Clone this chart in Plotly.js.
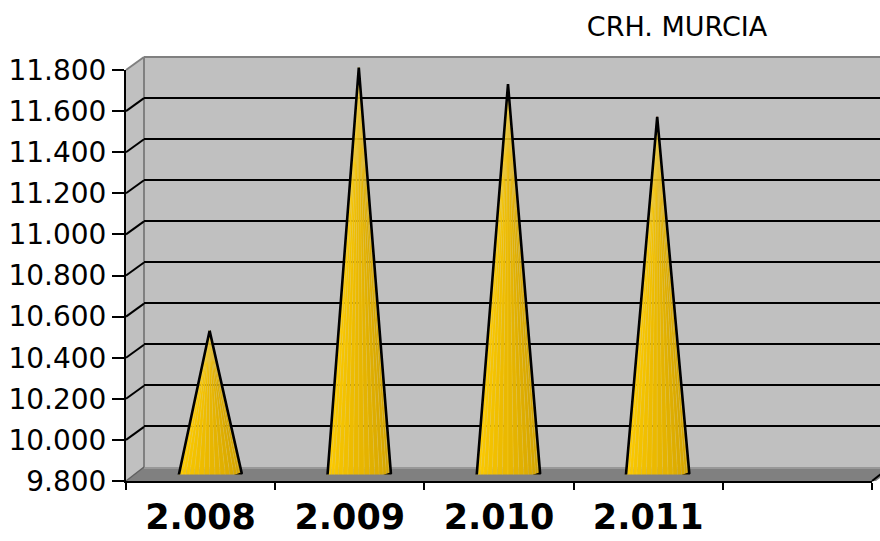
<!DOCTYPE html>
<html>
<head>
<meta charset="utf-8">
<script src="https://cdn.plot.ly/plotly-3.0.1.min.js"></script>
<style>html,body{margin:0;padding:0;background:#fff;}#chart{width:880px;height:541px;}</style>
</head>
<body>
<div id="chart"></div>
<script>
// ---- data ----
const categories = ['2.008', '2.009', '2.010', '2.011'];
const values = [10500, 11780, 11700, 11540];
const yTicks = [9800, 10000, 10200, 10400, 10600, 10800, 11000, 11200, 11400, 11600, 11800];
const chartTitle = 'CRH. MURCIA';

// ---- layout helpers (pixel -> paper) ----
const W = 880, H = 541;
const fx = p => p / W;
const fy = p => (H - p) / H;

const catIdx = categories.map((_, i) => i);
const nSlots = 5;
const slotPx = (872 - 126) / nSlots;

// ---- cone geometry built from the values ----
const R = 0.215;      // base half-width in category units
const B = 20;         // base ellipse semi-minor in value units
const TILT = 12;      // perspective tilt
const C0 = 9795;      // base centre level
const N = 18;
function basePt(i, k) {
  const th = Math.PI + Math.PI * k / N;
  return [i + R * Math.cos(th), C0 + B * Math.sin(th) + TILT * Math.cos(th)];
}
const strips = [];
for (let k = 0; k < N; k++) {
  const xs = [], ys = [];
  values.forEach((v, i) => {
    const a = basePt(i, k), b = basePt(i, k + 1);
    xs.push(i, a[0], b[0], i, null);
    ys.push(v, a[1], b[1], v, null);
  });
  const t = k / (N - 1);
  const r = Math.round(255 - 50 * Math.pow(t, 1.2));
  const g = Math.round(206 - 48 * Math.pow(t, 1.1));
  strips.push({
    type: 'scatter', mode: 'lines', x: xs, y: ys, xaxis: 'x3', yaxis: 'y3',
    fill: 'toself', fillcolor: `rgb(${r},${g},0)`,
    line: {color: 'rgba(255,230,120,0.3)', width: 0.5},
    hoverinfo: 'skip', showlegend: false
  });
}
const ox = [], oy = [];
values.forEach((v, i) => {
  ox.push(i); oy.push(v);
  for (let k = 0; k <= N; k++) { const p = basePt(i, k); ox.push(p[0]); oy.push(p[1]); }
  ox.push(i); oy.push(v);
  ox.push(null); oy.push(null);
});
const outline = {
  type: 'scatter', mode: 'lines', x: ox, y: oy, xaxis: 'x3', yaxis: 'y3',
  line: {color: '#000', width: 2.6}, hoverinfo: 'skip', showlegend: false
};

const dummyFront = {type: 'scatter', mode: 'markers', x: [null], y: [null], xaxis: 'x', yaxis: 'y', showlegend: false, hoverinfo: 'skip'};
const dummyBack = {type: 'scatter', mode: 'markers', x: [null], y: [null], xaxis: 'x2', yaxis: 'y2', showlegend: false, hoverinfo: 'skip'};
const dummyLabels = {type: 'scatter', mode: 'markers', x: [null], y: [null], xaxis: 'x4', yaxis: 'y', showlegend: false, hoverinfo: 'skip'};

// ---- walls / floor / edges ----
const shapes = [
  {type: 'rect', xref: 'paper', yref: 'paper', x0: fx(144), x1: 1, y0: fy(467), y1: fy(57),
   fillcolor: '#C0C0C0', line: {width: 0}, layer: 'below'},
  {type: 'path', xref: 'paper', yref: 'paper', layer: 'below',
   path: `M ${fx(126)},${fy(481)} L ${fx(126)},${fy(70)} L ${fx(144)},${fy(57)} L ${fx(144)},${fy(467)} Z`,
   fillcolor: '#C0C0C0', line: {width: 0}},
  {type: 'path', xref: 'paper', yref: 'paper', layer: 'below',
   path: `M ${fx(126)},${fy(481)} L ${fx(144)},${fy(467)} L ${fx(894)},${fy(467)} L ${fx(876)},${fy(481)} Z`,
   fillcolor: '#808080', line: {width: 0}},
  {type: 'line', xref: 'paper', yref: 'paper', layer: 'below', x0: fx(144), x1: fx(880), y0: fy(468), y1: fy(468),
   line: {color: '#A0A0A0', width: 1.5}},
  {type: 'line', xref: 'paper', yref: 'paper', layer: 'below', x0: fx(144), x1: fx(144), y0: fy(467), y1: fy(57),
   line: {color: '#808080', width: 2}},
  {type: 'line', xref: 'paper', yref: 'paper', layer: 'below', x0: fx(144), x1: fx(880), y0: fy(57), y1: fy(57),
   line: {color: '#808080', width: 2}},
  {type: 'line', xref: 'paper', yref: 'paper', layer: 'below', x0: fx(126), x1: fx(144), y0: fy(70), y1: fy(57),
   line: {color: '#808080', width: 2}},
  {type: 'line', xref: 'paper', yref: 'paper', layer: 'below', x0: fx(126), x1: fx(144), y0: fy(481), y1: fy(467),
   line: {color: '#606060', width: 1.5}},
  {type: 'line', xref: 'paper', yref: 'paper', x0: fx(872), x1: fx(881), y0: fy(481), y1: fy(474),
   line: {color: '#000', width: 2}}
];
yTicks.slice(1, -1).forEach(v => {
  shapes.push({type: 'line', xref: 'paper', yref: 'y', ysizemode: 'pixel', yanchor: v,
    x0: fx(126), x1: fx(144), y0: 0, y1: 13, layer: 'below', line: {color: '#000', width: 2}});
});

const layout = {
  width: W, height: H,
  margin: {l: 0, r: 0, t: 0, b: 0},
  paper_bgcolor: '#fff', plot_bgcolor: 'rgba(0,0,0,0)',
  separators: ',.',
  showlegend: false,
  title: {text: chartTitle, x: fx(677), xanchor: 'center', y: fy(27), yanchor: 'middle', xref: 'paper', yref: 'paper',
    font: {family: 'DejaVu Sans, Arial, sans-serif', size: 27, color: '#000'}},
  xaxis: {domain: [fx(126), fx(872)], range: [-0.5, nSlots - 0.5], anchor: 'y',
    showline: true, linecolor: '#000', linewidth: 2, showgrid: false, zeroline: false,
    tickmode: 'array', tickvals: [-0.5, 0.5, 1.5, 2.5, 3.5, 4.5], ticktext: ['', '', '', '', '', ''],
    ticks: 'outside', ticklen: 7, tickwidth: 2, tickcolor: '#000', showticklabels: false, fixedrange: true},
  xaxis4: {overlaying: 'x', anchor: 'y', side: 'bottom', range: [-0.5, nSlots - 0.5],
    showline: false, showgrid: false, zeroline: false, ticks: '',
    tickmode: 'array', tickvals: catIdx, ticktext: categories, ticklabelstandoff: 12,
    tickfont: {family: 'DejaVu Sans, Arial, sans-serif', size: 35, color: '#000', weight: 'bold'}},
  yaxis: {domain: [fy(481), fy(70)], range: [9800, 11800], anchor: 'x',
    showline: true, linecolor: '#000', linewidth: 2, showgrid: false, zeroline: false,
    tickmode: 'array', tickvals: yTicks, tickformat: ',d',
    ticks: 'outside', ticklen: 12, tickwidth: 2, tickcolor: '#000',
    tickfont: {family: 'DejaVu Sans, Arial, sans-serif', size: 28, color: '#000'}},
  xaxis2: {domain: [fx(144), 1], range: [0, 1], anchor: 'y2', visible: false},
  yaxis2: {domain: [fy(467), fy(57)], range: [9800, 11800], anchor: 'x2',
    showline: false, showgrid: true, gridcolor: '#000', gridwidth: 2, zeroline: false,
    tickmode: 'array', tickvals: yTicks.slice(1, -1), showticklabels: false, ticks: ''},
  xaxis3: {domain: [fx(135), 1], range: [-0.5, -0.5 + (880 - 135) / slotPx], anchor: 'y3', visible: false},
  yaxis3: {domain: [fy(474.5), fy(63.5)], range: [9800, 11800], anchor: 'x3', visible: false},
  shapes: shapes
};

Plotly.newPlot('chart', [dummyFront, dummyLabels, dummyBack, ...strips, outline], layout,
  {displayModeBar: false, staticPlot: true});
</script>
</body>
</html>
